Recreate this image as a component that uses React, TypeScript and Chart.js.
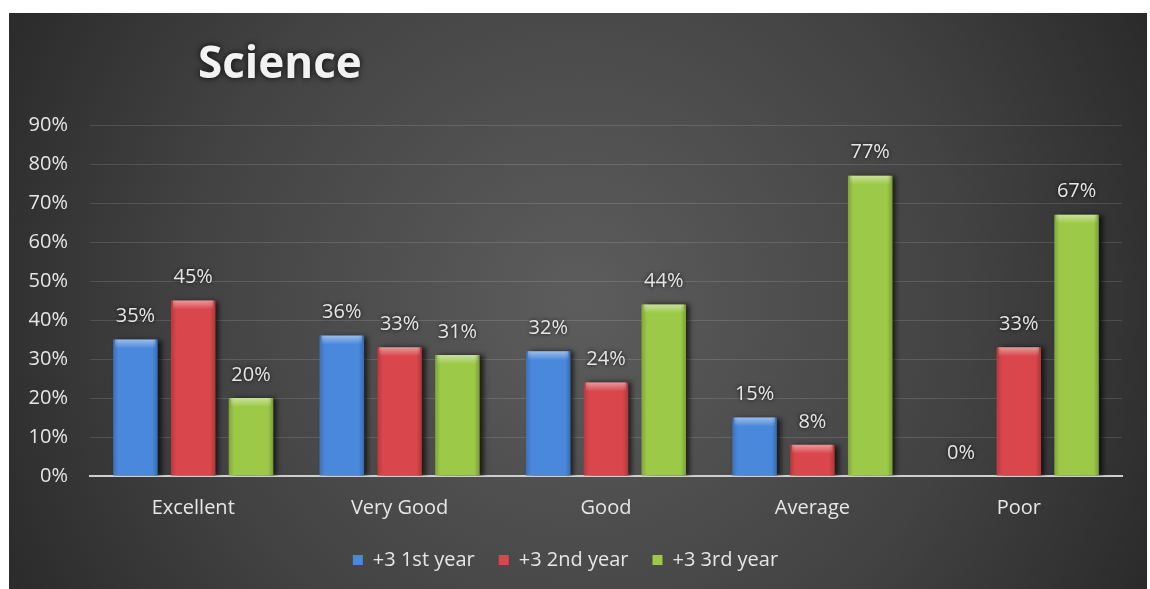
import React, { useEffect, useRef } from "react";
import { Chart, registerables } from "chart.js";

Chart.register(...registerables);

const chartTitle = "Science";
const categories = ["Excellent", "Very Good", "Good", "Average", "Poor"];
const seriesNames = ["+3 1st year", "+3 2nd year", "+3 3rd year"];
const year1 = [35, 36, 32, 15, 0];
const year2 = [45, 33, 24, 8, 33];
const year3 = [20, 31, 44, 77, 67];
const yMax = 90;
const yStep = 10;
const seriesColors = ["#4a88dc", "#d9464b", "#9cc947"];

const FONT = "'Open Sans', 'DejaVu Sans', sans-serif";

const backgroundPlugin = {
  id: "bgGradient",
  beforeDraw(chart: any) {
    const { ctx, width, height } = chart;
    ctx.save();
    const g = ctx.createRadialGradient(width * 0.5, height * 0.5, 10, width * 0.5, height * 0.5, width * 0.62);
    g.addColorStop(0, "#5c5c5c");
    g.addColorStop(0.55, "#424242");
    g.addColorStop(1, "#242424");
    ctx.fillStyle = g;
    ctx.fillRect(0, 0, width, height);
    ctx.restore();
  },
};

const titlePlugin = {
  id: "leftTitle",
  afterDraw(chart: any) {
    const { ctx, chartArea } = chart;
    ctx.save();
    ctx.font = `bold 44px ${FONT}`;
    ctx.fillStyle = "#f2f2f2";
    ctx.textAlign = "left";
    ctx.textBaseline = "middle";
    ctx.shadowColor = "rgba(0,0,0,0.9)";
    ctx.shadowBlur = 6;
    ctx.fillText(chartTitle, chartArea.left + 108, 52);
    ctx.restore();
  },
};

const barShadowPlugin = {
  id: "barShadow",
  beforeDatasetDraw(chart: any) {
    const ctx = chart.ctx;
    ctx.save();
    ctx.shadowColor = "rgba(0,0,0,0.65)";
    ctx.shadowBlur = 5;
    ctx.shadowOffsetX = 4;
    ctx.shadowOffsetY = 0;
  },
  afterDatasetDraw(chart: any) {
    chart.ctx.restore();
  },
};

const barDecorPlugin = {
  id: "barDecor",
  afterDatasetsDraw(chart: any) {
    const ctx = chart.ctx;
    ctx.save();
    chart.data.datasets.forEach((ds: any, i: number) => {
      const meta = chart.getDatasetMeta(i);
      meta.data.forEach((bar: any, j: number) => {
        const v = ds.data[j];
        if (v > 0) {
          const left = bar.x - bar.width / 2;
          const h = Math.min(9, bar.base - bar.y);
          const g = ctx.createLinearGradient(0, bar.y, 0, bar.y + h);
          g.addColorStop(0, "rgba(255,255,255,0.45)");
          g.addColorStop(1, "rgba(255,255,255,0)");
          ctx.fillStyle = g;
          ctx.fillRect(left + 2, bar.y, bar.width - 4, h);
          const gx = ctx.createLinearGradient(left, 0, left + bar.width, 0);
          gx.addColorStop(0, "rgba(0,0,0,0.18)");
          gx.addColorStop(0.12, "rgba(0,0,0,0)");
          gx.addColorStop(0.88, "rgba(0,0,0,0)");
          gx.addColorStop(1, "rgba(0,0,0,0.22)");
          ctx.fillStyle = gx;
          ctx.fillRect(left, bar.y, bar.width, bar.base - bar.y);
        }
      });
    });
    ctx.font = `20px ${FONT}`;
    ctx.fillStyle = "#e6e6e6";
    ctx.textAlign = "center";
    ctx.textBaseline = "middle";
    ctx.shadowColor = "rgba(0,0,0,0.9)";
    ctx.shadowBlur = 4;
    chart.data.datasets.forEach((ds: any, i: number) => {
      const meta = chart.getDatasetMeta(i);
      meta.data.forEach((bar: any, j: number) => {
        ctx.fillText(ds.data[j] + "%", bar.x, bar.y - 23);
      });
    });
    ctx.restore();
  },
};

export default function App() {
  const canvasRef = useRef<HTMLCanvasElement | null>(null);

  useEffect(() => {
    const canvas = canvasRef.current;
    if (!canvas) return;
    const seriesData = [year1, year2, year3];
    const chart = new Chart(canvas, {
      type: "bar",
      data: {
        labels: categories,
        datasets: seriesNames.map((name, i) => ({
          label: name,
          data: seriesData[i],
          backgroundColor: seriesColors[i],
          borderWidth: 0,
          categoryPercentage: 0.84,
          barPercentage: 0.77,
        })),
      },
      options: {
        animation: false,
        responsive: true,
        maintainAspectRatio: false,
        layout: { padding: { left: 0, right: 25, top: 112, bottom: 9 } },
        plugins: {
          title: { display: false },
          tooltip: { enabled: false },
          legend: {
            position: "bottom",
            labels: {
              color: "#e6e6e6",
              font: { family: FONT, size: 20 },
              boxWidth: 10,
              boxHeight: 10,
              padding: 24,
            },
          },
        },
        scales: {
          x: {
            grid: { display: false, drawTicks: false },
            border: { display: true, color: "#cfcfcf", width: 2 },
            ticks: { color: "#e6e6e6", font: { family: FONT, size: 20 }, padding: 20 },
            afterFit: (s: any) => {
              s.height = 50;
            },
          },
          y: {
            min: 0,
            max: yMax,
            grid: { color: "rgba(255,255,255,0.13)", drawTicks: false, lineWidth: 1 },
            border: { display: false },
            ticks: {
              stepSize: yStep,
              color: "#e6e6e6",
              font: { family: FONT, size: 20 },
              padding: 22,
              callback: (v: any) => v + "%",
            },
            afterFit: (s: any) => {
              s.width = 81;
            },
          },
        },
      },
      plugins: [backgroundPlugin, barShadowPlugin, barDecorPlugin, titlePlugin],
    } as any);
    return () => chart.destroy();
  }, []);

  return (
    <div
      style={{
        position: "absolute",
        left: 9,
        top: 13,
        width: 1138,
        height: 576,
      }}
    >
      <canvas ref={canvasRef} />
    </div>
  );
}
